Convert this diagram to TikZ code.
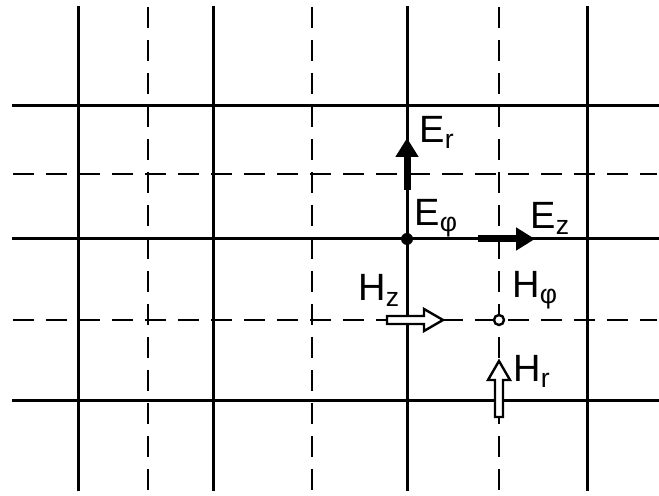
\documentclass[tikz,border=0pt]{standalone}
\usepackage{fontspec}
\setmainfont{Liberation Sans}
\usetikzlibrary{arrows.meta}

\tikzset{
    gridsolid/.style={line width=1.5pt},
    griddashed/.style={line width=1.4pt, dash pattern=on 10.5pt off 6pt},
    fieldlabel/.style={font=\fontsize{19}{22}\selectfont, anchor=base west, inner sep=0pt},
    efield/.style={line width=3.5pt, -{Triangle[length=9.5pt,width=11pt]}},
    hfield/.pic={
        \draw[line width=1.2pt, fill=white, line join=miter]
            (0,-4) -- (37,-4) -- (37,-11) -- (56,0) -- (37,11) -- (37,4) -- (0,4) -- cycle;
    }
}

\begin{document}
\begin{tikzpicture}[x=0.5pt, y=-0.5pt]
        \useasboundingbox (0,0) rectangle (659,496);

        % Gitter
        \foreach \x in {78,213,407,587}{
            \draw[gridsolid] (\x,6) -- (\x,491);
        }
        \foreach \x in {148,312,499}{
            \draw[griddashed] (\x,7) -- (\x,491);
        }
        \foreach \y in {106,239,401}{
            \draw[gridsolid] (12,\y) -- (659,\y);
        }
        \foreach \y in {174,320}{
            \draw[griddashed] (13,\y) -- (657,\y);
        }

        % E-Feld
        \coordinate (ephi) at (407,239);
        \coordinate (er0) at (407,190);
        \coordinate (er1) at (407,138);
        \coordinate (ez0) at (478,239);
        \coordinate (ez1) at (535,239);

        \draw[efield] (er0) -- (er1);
        \draw[efield] (ez0) -- (ez1);
        \fill (ephi) circle (6);

        \node[fieldlabel] (erlab) at (419,143) {E\textsubscript{r}};
        \node[fieldlabel] (ephilab) at (414,226) {E\textsubscript{φ}};
        \node[fieldlabel] (ezlab) at (530,229) {E\textsubscript{z}};

        % H-Feld
        \coordinate (hphi) at (499,320);
        \coordinate (hz0) at (387,320);
        \coordinate (hr0) at (499,417);

        \pic at (hz0) {hfield};
        \pic[rotate=90] at (hr0) {hfield};
        \draw[line width=1.2pt, fill=white] (hphi) circle (5);

        \node[fieldlabel] (hzlab) at (358,301) {H\textsubscript{z}};
        \node[fieldlabel] (hphilab) at (512,298) {H\textsubscript{φ}};
        \node[fieldlabel] (hrlab) at (513,382) {H\textsubscript{r}};
    \end{tikzpicture}
\end{document}
